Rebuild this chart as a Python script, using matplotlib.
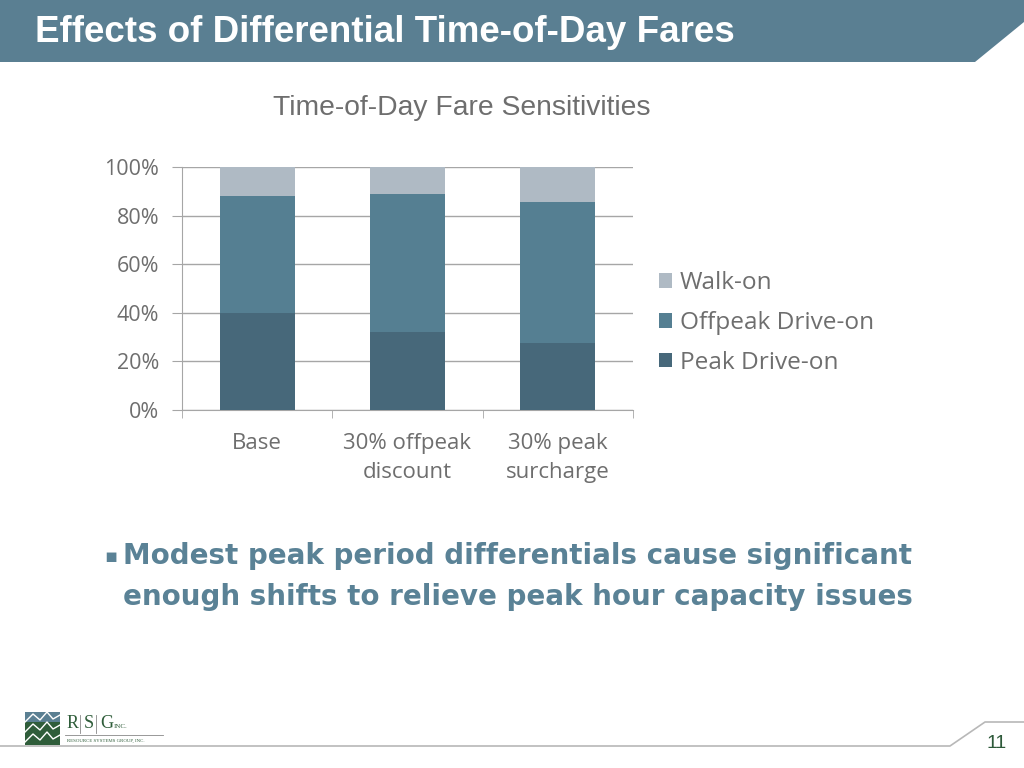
import matplotlib
matplotlib.use('Agg')
import matplotlib.pyplot as plt
from matplotlib.patches import Polygon
import numpy as np

# data (% of trips)
categories = ['Base', '30% offpeak\ndiscount', '30% peak\nsurcharge']
peak_drive = [40, 32, 27.5]
offpeak_drive = [48, 57, 58]
walk_on = [12, 11, 14.5]
yticks = [0, 20, 40, 60, 80, 100]

c_peak = '#47687a'
c_off = '#557f92'
c_walk = '#afbac4'
banner = '#5a7f92'
gray_txt = '#6e6e6e'
hum = 'Open Sans'

W, H = 1024, 768
fig = plt.figure(figsize=(W / 100, H / 100), dpi=100)

# background layer in pixel coordinates
bg = fig.add_axes([0, 0, 1, 1])
bg.set_xlim(0, W)
bg.set_ylim(H, 0)
bg.axis('off')
bg.add_patch(Polygon([(0, 0), (W, 0), (W, 22), (975, 62), (0, 62)],
                     closed=True, color=banner, lw=0))
bg.text(35, 32, 'Effects of Differential Time-of-Day Fares', color='white',
        fontsize=26.5, fontweight='bold', family='Liberation Sans', va='center')

# footer line
bg.plot([0, 950, 985, W], [746, 746, 722, 722], color='#b8b8b8', lw=1.2)
bg.text(987, 743, '11', color='#2e5a3a', fontsize=14,
        family='Liberation Sans', va='center', ha='left')

# crude logo
bg.add_patch(Polygon([(25, 712), (60, 712), (60, 745), (25, 745)],
                     closed=True, color='#2f5d3a', lw=0))
bg.add_patch(Polygon([(25, 712), (60, 712), (60, 722), (25, 722)],
                     closed=True, color='#5a7f92', lw=0))
for yy in (722, 732, 742):
    bg.plot([25, 33, 40, 47, 53, 60], [yy, yy - 8, yy - 2, yy - 10, yy - 3, yy - 7],
            color='white', lw=1)
bg.text(67, 724, 'R', color='#2f5d3a', fontsize=13, family='Liberation Serif', va='center')
bg.text(84, 724, 'S', color='#2f5d3a', fontsize=13, family='Liberation Serif', va='center')
bg.text(100, 724, 'G', color='#2f5d3a', fontsize=13, family='Liberation Serif', va='center')
bg.text(114, 727, 'INC.', color='#2f5d3a', fontsize=5, family='Liberation Serif', va='center')
bg.plot([80, 80], [715, 733], color='#888888', lw=0.6)
bg.plot([96, 96], [715, 733], color='#888888', lw=0.6)
bg.plot([65, 163], [735, 735], color='#888888', lw=0.6)
bg.text(67, 741, 'RESOURCE SYSTEMS GROUP, INC.', color='#2f5d3a', fontsize=3.5,
        family='Liberation Serif', va='center')

# bullet text
bg.text(104, 556, '\u25aa', color='#5a8296', fontsize=14, va='center')
bg.text(123, 556, 'Modest peak period differentials cause significant',
        color='#5a8296', fontsize=20, fontweight='bold', va='center', family='DejaVu Sans')
bg.text(123, 597, 'enough shifts to relieve peak hour capacity issues',
        color='#5a8296', fontsize=20, fontweight='bold', va='center', family='DejaVu Sans')

# chart title
bg.text(462, 108, 'Time-of-Day Fare Sensitivities', color=gray_txt, fontsize=20.3,
        family='Liberation Sans', ha='center', va='center')

# chart
ax = fig.add_axes([182 / W, 1 - 410 / H, (633 - 182) / W, (410 - 167) / H])
x = np.arange(len(categories))
bottom2 = np.array(peak_drive)
bottom3 = bottom2 + np.array(offpeak_drive)
b1 = ax.bar(x, peak_drive, width=0.5, color=c_peak, zorder=3)
b2 = ax.bar(x, offpeak_drive, width=0.5, bottom=bottom2, color=c_off, zorder=3)
b3 = ax.bar(x, walk_on, width=0.5, bottom=bottom3, color=c_walk, zorder=3)

ax.set_xlim(-0.5, len(categories) - 0.5)
ax.set_ylim(0, 100)
ax.set_yticks(yticks)
ax.set_yticklabels(['{}%'.format(v) for v in yticks], color=gray_txt,
                   fontsize=15.5, family=hum)
ax.yaxis.grid(True, color='#a6a6a6', lw=1, zorder=0)
ax.set_xticks(x)
ax.set_xticklabels(categories, color=gray_txt, fontsize=16, family=hum,
                   linespacing=1.5)
ax.set_xticks([-0.5, 0.5, 1.5, 2.5], minor=True)
ax.tick_params(axis='x', which='major', length=0, pad=16.5)
ax.tick_params(axis='x', which='minor', length=6, color='#a6a6a6')
ax.tick_params(axis='y', length=7, color='#a6a6a6', pad=9.5)
for s in ('top', 'right'):
    ax.spines[s].set_visible(False)
ax.spines['left'].set_color('#a6a6a6')
ax.spines['bottom'].set_color('#a6a6a6')

leg = fig.legend([b3, b2, b1], ['Walk-on', 'Offpeak Drive-on', 'Peak Drive-on'],
                 loc='upper left', bbox_to_anchor=(659 / W, 1 - 271 / H),
                 frameon=False, prop={'family': hum, 'size': 17.6},
                 handlelength=0.55, handleheight=0.55,
                 handletextpad=0.3, labelspacing=0.65, borderaxespad=0,
                 borderpad=0)
for t in leg.get_texts():
    t.set_color(gray_txt)

fig.savefig('out.png', dpi=100)
